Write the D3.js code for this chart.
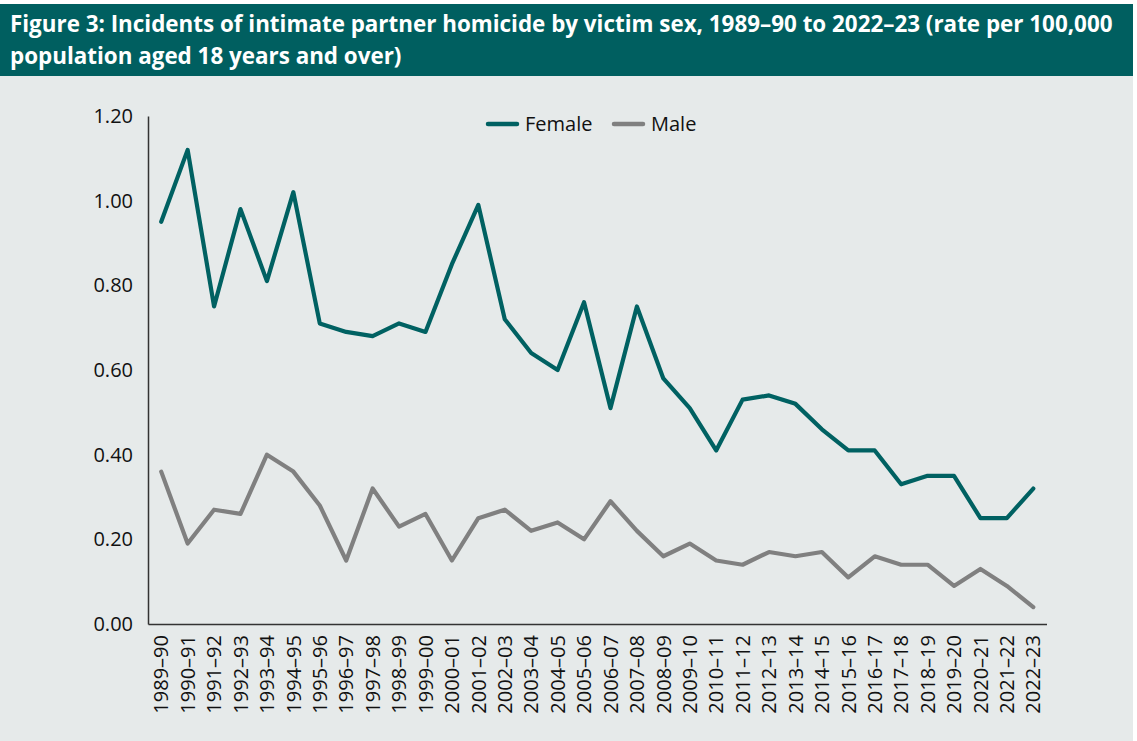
<!DOCTYPE html>
<html>
<head>
<meta charset="utf-8">
<script src="https://cdn.jsdelivr.net/npm/d3@7"></script>
<style>
  html, body { margin: 0; padding: 0; background: #ffffff; }
  svg { display: block; }
</style>
</head>
<body>
<svg id="chart" width="1137" height="741"></svg>
<script>
const categories = ["1989–90","1990–91","1991–92","1992–93","1993–94","1994–95","1995–96","1996–97","1997–98","1998–99","1999–00","2000–01","2001–02","2002–03","2003–04","2004–05","2005–06","2006–07","2007–08","2008–09","2009–10","2010–11","2011–12","2012–13","2013–14","2014–15","2015–16","2016–17","2017–18","2018–19","2019–20","2020–21","2021–22","2022–23"];
const femaleValues = [0.95,1.12,0.75,0.98,0.81,1.02,0.71,0.69,0.68,0.71,0.69,0.85,0.99,0.72,0.64,0.60,0.76,0.51,0.75,0.58,0.51,0.41,0.53,0.54,0.52,0.46,0.41,0.41,0.33,0.35,0.35,0.25,0.25,0.32];
const maleValues = [0.36,0.19,0.27,0.26,0.40,0.36,0.28,0.15,0.32,0.23,0.26,0.15,0.25,0.27,0.22,0.24,0.20,0.29,0.22,0.16,0.19,0.15,0.14,0.17,0.16,0.17,0.11,0.16,0.14,0.14,0.09,0.13,0.09,0.04];
const yTicks = [0, 0.2, 0.4, 0.6, 0.8, 1.0, 1.2];
const seriesNames = ["Female", "Male"];
const titleLines = ["Figure 3: Incidents of intimate partner homicide by victim sex, 1989–90 to 2022–23 (rate per 100,000", "population aged 18 years and over)"];

const colors = { Female: "#006162", Male: "#808080" };
const svg = d3.select("#chart");
const W = 1137, H = 741;

// backgrounds
svg.append("rect").attr("x", 0).attr("y", 76).attr("width", 1133).attr("height", H - 76).attr("fill", "#e6eaea");
svg.append("rect").attr("x", 0).attr("y", 4).attr("width", 1133).attr("height", 72).attr("fill", "#005f60");

// title
const title = svg.append("g");
titleLines.forEach((t, i) => {
  title.append("text")
    .attr("x", 10).attr("y", 32 + i * 31.5)
    .attr("fill", "#ffffff")
    .attr("font-family", "'Open Sans', sans-serif")
    .attr("font-weight", "bold")
    .attr("font-size", 22.4)
    .text(t);
});

const margin = { left: 148, right: 1046.5, top: 116, bottom: 624 };
const x = d3.scaleBand().domain(categories).range([margin.left, margin.right]).paddingInner(0).paddingOuter(0);
const y = d3.scaleLinear().domain([0, 1.2]).range([margin.bottom, margin.top]);
const cx = d => x(d) + x.bandwidth() / 2;

// y axis
const yAxis = d3.axisLeft(y).tickValues(yTicks).tickFormat(d3.format(".2f")).tickSize(0).tickPadding(15);
const gy = svg.append("g").attr("transform", `translate(${margin.left},0)`).call(yAxis);
gy.select(".domain").attr("stroke", "#333").attr("stroke-width", 1.5);
gy.selectAll("text").attr("font-family", "'Open Sans', sans-serif").attr("font-size", 20).attr("fill", "#111");

// x axis
const xAxis = d3.axisBottom(x).tickSize(0).tickPadding(0);
const gx = svg.append("g").attr("transform", `translate(0,${margin.bottom})`).call(xAxis);
gx.select(".domain").attr("stroke", "#333").attr("stroke-width", 1.5);
gx.selectAll(".tick text")
  .attr("font-family", "'Open Sans', sans-serif").attr("font-size", 20).attr("fill", "#111")
  .attr("text-anchor", "end")
  .attr("transform", "translate(0,11) rotate(-90)")
  .attr("x", 0).attr("y", 0).attr("dy", "0.36em");

// lines
const line = d3.line().x((d, i) => cx(categories[i])).y(d => y(d));
[["Male", maleValues], ["Female", femaleValues]].forEach(([name, vals]) => {
  svg.append("path").datum(vals)
    .attr("d", line)
    .attr("fill", "none")
    .attr("stroke", colors[name])
    .attr("stroke-width", 4.2)
    .attr("stroke-linejoin", "round")
    .attr("stroke-linecap", "round");
});

// legend
const legendPos = [{ x: 488, name: "Female" }, { x: 614, name: "Male" }];
legendPos.forEach(p => {
  svg.append("line").attr("x1", p.x).attr("x2", p.x + 29).attr("y1", 124).attr("y2", 124)
    .attr("stroke", colors[p.name]).attr("stroke-width", 4.5).attr("stroke-linecap", "round");
  svg.append("text").attr("x", p.x + 37).attr("y", 131)
    .attr("font-family", "'Open Sans', sans-serif").attr("font-size", 20).attr("fill", "#111")
    .text(p.name);
});
</script>
</body>
</html>
